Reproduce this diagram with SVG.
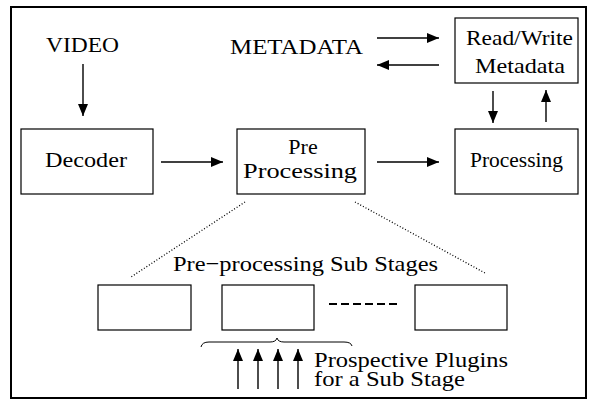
<svg xmlns="http://www.w3.org/2000/svg" width="595" height="403" viewBox="0 0 595 403">
  <style>
    .box { fill: #fff; stroke: #000; stroke-width: 1.2; }
    .lbl { font-family: "Liberation Serif", "Times New Roman", "DejaVu Serif", serif; font-size: 22px; fill: #000; }
    .arr { stroke: #000; stroke-width: 1.4; fill: none; marker-end: url(#head); }
    .dot { stroke: #000; stroke-width: 1.3; stroke-dasharray: 1 2; fill: none; }
  </style>
  <defs>
    <marker id="head" markerUnits="userSpaceOnUse" markerWidth="13" markerHeight="10" refX="12" refY="5" orient="auto">
      <path d="M0,0 L12,5 L0,10 z" fill="#000"/>
    </marker>
  </defs>

  <rect id="frame" x="11" y="7" width="575" height="391" fill="#fff" stroke="#000" stroke-width="2"/>

  <text class="lbl" x="46" y="52" textLength="73" lengthAdjust="spacingAndGlyphs">VIDEO</text>
  <text class="lbl" x="230" y="54" textLength="133" lengthAdjust="spacingAndGlyphs">METADATA</text>

  <g id="decoder">
    <rect class="box" x="21" y="129" width="132" height="65"/>
    <text class="lbl" x="45" y="167" textLength="82" lengthAdjust="spacingAndGlyphs">Decoder</text>
  </g>
  <g id="preprocessing">
    <rect class="box" x="237" y="129" width="128" height="65"/>
    <text class="lbl" x="303" y="154" text-anchor="middle">Pre</text>
    <text class="lbl" x="243" y="178" textLength="114" lengthAdjust="spacingAndGlyphs">Processing</text>
  </g>
  <g id="processing">
    <rect class="box" x="455" y="129" width="123" height="65"/>
    <text class="lbl" x="470" y="167" textLength="93" lengthAdjust="spacingAndGlyphs">Processing</text>
  </g>
  <g id="readwrite">
    <rect class="box" x="455" y="18" width="123" height="65"/>
    <text class="lbl" x="466" y="45" textLength="107" lengthAdjust="spacingAndGlyphs">Read/Write</text>
    <text class="lbl" x="475" y="73" textLength="90" lengthAdjust="spacingAndGlyphs">Metadata</text>
  </g>

  <g id="substages">
    <text class="lbl" x="173" y="271" textLength="265" lengthAdjust="spacingAndGlyphs">Pre−processing Sub Stages</text>
    <rect class="box" x="98" y="285" width="93" height="45"/>
    <rect class="box" x="222" y="285" width="92" height="45"/>
    <rect class="box" x="415" y="285" width="92" height="45"/>
    <line x1="329" y1="304" x2="397" y2="304" stroke="#000" stroke-width="2" stroke-dasharray="8 4"/>
  </g>

  <g id="plugins">
    <path d="M201,347 Q202,342 209,342 L270,342 Q276,342 277,338 Q278,342 284,342 L344,342 Q351,342 352,346" fill="none" stroke="#000" stroke-width="1"/>
    <text class="lbl" x="314" y="367" textLength="194" lengthAdjust="spacingAndGlyphs">Prospective Plugins</text>
    <text class="lbl" x="314" y="386" textLength="151" lengthAdjust="spacingAndGlyphs">for a Sub Stage</text>
  </g>

  <g id="connectors">
    <line class="arr" x1="83" y1="64" x2="83" y2="116"/>
    <line class="arr" x1="161" y1="162" x2="223" y2="162"/>
    <line class="arr" x1="377" y1="162" x2="439" y2="162"/>
    <line class="arr" x1="377" y1="38" x2="439" y2="38"/>
    <line class="arr" x1="439" y1="65" x2="377" y2="65"/>
    <line class="arr" x1="493" y1="91" x2="493" y2="123"/>
    <line class="arr" x1="546" y1="122" x2="546" y2="90"/>
    <line class="dot" x1="245" y1="202" x2="131" y2="277"/>
    <line class="dot" x1="355" y1="202" x2="485" y2="273"/>
    <line class="arr" x1="238" y1="389" x2="238" y2="349"/>
    <line class="arr" x1="258" y1="389" x2="258" y2="349"/>
    <line class="arr" x1="278" y1="389" x2="278" y2="349"/>
    <line class="arr" x1="298" y1="389" x2="298" y2="349"/>
  </g>
</svg>
